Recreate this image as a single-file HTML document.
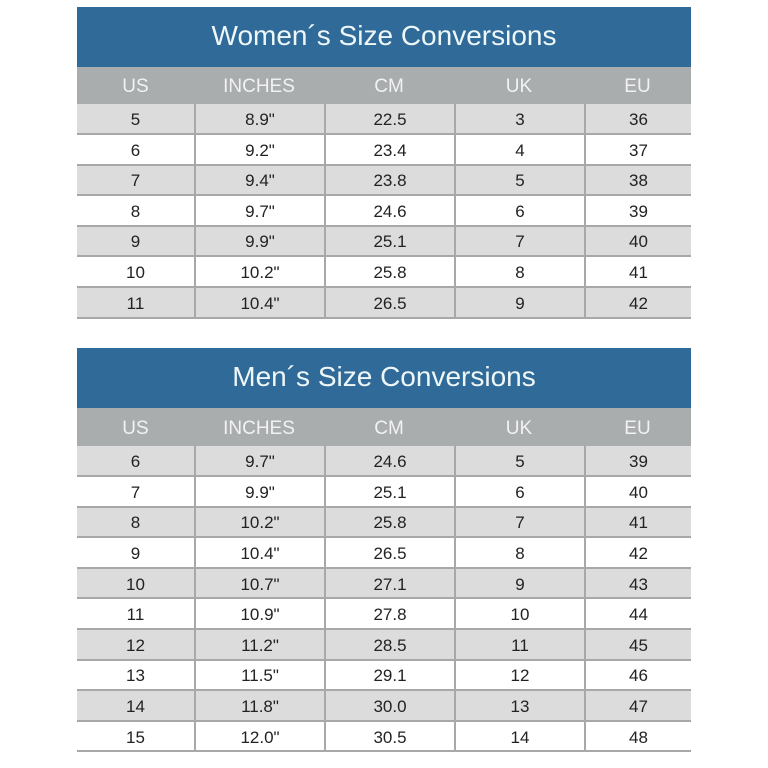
<!DOCTYPE html>
<html><head><style>
body{margin:0;width:768px;height:768px;background:#fff;position:relative;font-family:"Liberation Sans","DejaVu Sans",sans-serif;overflow:hidden}
.t{position:absolute;left:77px;width:614px}
.title{background:#2f6a99;color:#eef7f8;font-size:28px;text-align:center;box-sizing:border-box}
.hdr{background:#a9adad;color:#f2f2f2;font-size:19px;display:flex}
.hdr .c{padding-top:3px}
.row{display:flex;font-size:17px;color:#222;border-bottom:2px solid #a8a8a8;box-sizing:border-box}
.row .c{padding-top:3px}
.row.g{background:#dcdcdc}
.c{display:flex;align-items:center;justify-content:center;box-sizing:border-box}
.row .c+.c{border-left:2px solid #a8a8a8}
.c1{width:117px}.c2{width:130px}.c3{width:130px}.c4{width:130px}.c5{width:107px}
</style></head><body>
<div class="t" style="top:7px">
<div class="title" style="height:60px;line-height:58px">Women´s Size Conversions</div>
<div class="hdr" style="height:37px"><div class="c c1">US</div><div class="c c2">INCHES</div><div class="c c3">CM</div><div class="c c4">UK</div><div class="c c5">EU</div></div>
<div class="row g" style="height:31px"><div class="c c1">5</div><div class="c c2">8.9"</div><div class="c c3">22.5</div><div class="c c4">3</div><div class="c c5">36</div></div>
<div class="row" style="height:30.5px"><div class="c c1">6</div><div class="c c2">9.2"</div><div class="c c3">23.4</div><div class="c c4">4</div><div class="c c5">37</div></div>
<div class="row g" style="height:30.5px"><div class="c c1">7</div><div class="c c2">9.4"</div><div class="c c3">23.8</div><div class="c c4">5</div><div class="c c5">38</div></div>
<div class="row" style="height:30.5px"><div class="c c1">8</div><div class="c c2">9.7"</div><div class="c c3">24.6</div><div class="c c4">6</div><div class="c c5">39</div></div>
<div class="row g" style="height:30.5px"><div class="c c1">9</div><div class="c c2">9.9"</div><div class="c c3">25.1</div><div class="c c4">7</div><div class="c c5">40</div></div>
<div class="row" style="height:30.5px"><div class="c c1">10</div><div class="c c2">10.2"</div><div class="c c3">25.8</div><div class="c c4">8</div><div class="c c5">41</div></div>
<div class="row g" style="height:31px"><div class="c c1">11</div><div class="c c2">10.4"</div><div class="c c3">26.5</div><div class="c c4">9</div><div class="c c5">42</div></div>
</div>
<div class="t" style="top:348px">
<div class="title" style="height:60px;line-height:58px">Men´s Size Conversions</div>
<div class="hdr" style="height:38px"><div class="c c1">US</div><div class="c c2">INCHES</div><div class="c c3">CM</div><div class="c c4">UK</div><div class="c c5">EU</div></div>
<div class="row g" style="height:31px"><div class="c c1">6</div><div class="c c2">9.7"</div><div class="c c3">24.6</div><div class="c c4">5</div><div class="c c5">39</div></div>
<div class="row" style="height:30.6px"><div class="c c1">7</div><div class="c c2">9.9"</div><div class="c c3">25.1</div><div class="c c4">6</div><div class="c c5">40</div></div>
<div class="row g" style="height:30.6px"><div class="c c1">8</div><div class="c c2">10.2"</div><div class="c c3">25.8</div><div class="c c4">7</div><div class="c c5">41</div></div>
<div class="row" style="height:30.6px"><div class="c c1">9</div><div class="c c2">10.4"</div><div class="c c3">26.5</div><div class="c c4">8</div><div class="c c5">42</div></div>
<div class="row g" style="height:30.6px"><div class="c c1">10</div><div class="c c2">10.7"</div><div class="c c3">27.1</div><div class="c c4">9</div><div class="c c5">43</div></div>
<div class="row" style="height:30.6px"><div class="c c1">11</div><div class="c c2">10.9"</div><div class="c c3">27.8</div><div class="c c4">10</div><div class="c c5">44</div></div>
<div class="row g" style="height:30.6px"><div class="c c1">12</div><div class="c c2">11.2"</div><div class="c c3">28.5</div><div class="c c4">11</div><div class="c c5">45</div></div>
<div class="row" style="height:30.6px"><div class="c c1">13</div><div class="c c2">11.5"</div><div class="c c3">29.1</div><div class="c c4">12</div><div class="c c5">46</div></div>
<div class="row g" style="height:30.6px"><div class="c c1">14</div><div class="c c2">11.8"</div><div class="c c3">30.0</div><div class="c c4">13</div><div class="c c5">47</div></div>
<div class="row" style="height:30.6px"><div class="c c1">15</div><div class="c c2">12.0"</div><div class="c c3">30.5</div><div class="c c4">14</div><div class="c c5">48</div></div>
</div>
</body></html>
